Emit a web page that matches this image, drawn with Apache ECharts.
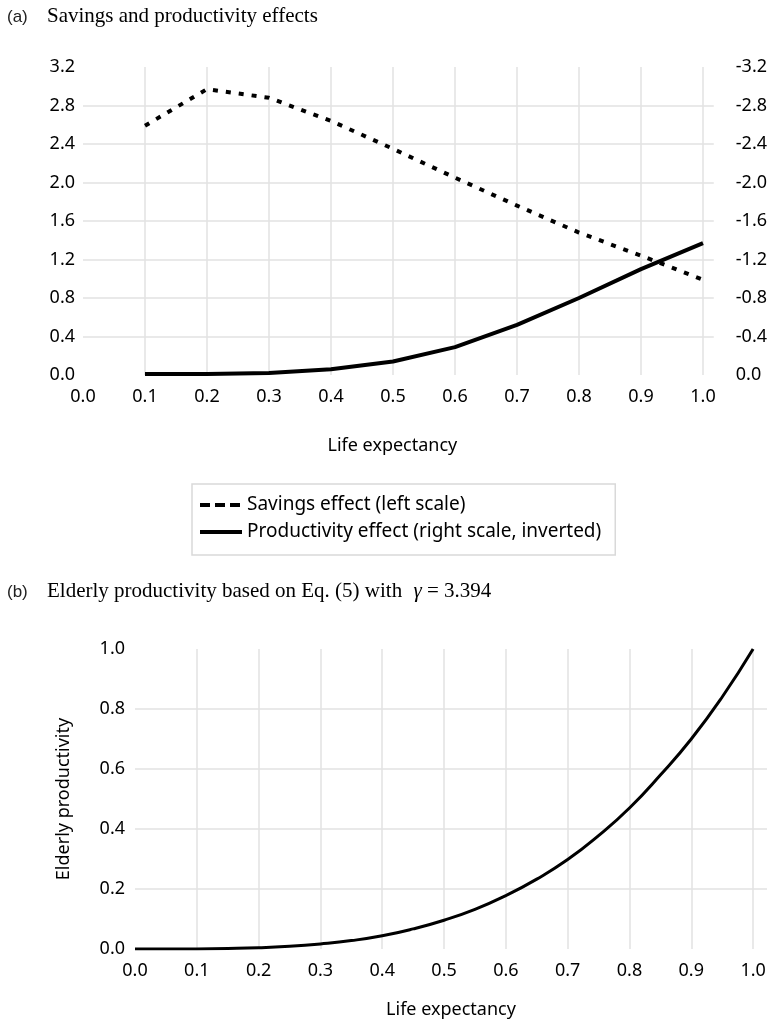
<!DOCTYPE html>
<html><head><meta charset="utf-8">
<script src="https://cdn.jsdelivr.net/npm/echarts@6/dist/echarts.min.js"></script>
<style>html,body{margin:0;padding:0;background:#fff}#c{width:770px;height:1031px}</style>
</head><body><div id="c"></div>
<script>
// ---- data ----
const lifeExpTop = [0.1, 0.2, 0.3, 0.4, 0.5, 0.6, 0.7, 0.8, 0.9, 1.0];
const savingsEffect = [2.59, 2.97, 2.88, 2.64, 2.35, 2.05, 1.76, 1.48, 1.24, 0.99];
const productivityEffect = [-0.01, -0.01, -0.02, -0.06, -0.14, -0.29, -0.52, -0.80, -1.10, -1.37];
const lifeExpBottom = [0, 0.05, 0.1, 0.15, 0.2, 0.25, 0.3, 0.35, 0.4, 0.45, 0.5, 0.55, 0.6, 0.65, 0.7, 0.75, 0.8, 0.85, 0.9, 0.95, 1.0];
const elderlyProductivity = [0, 0, 0.0004, 0.0016, 0.004, 0.009, 0.017, 0.028, 0.044, 0.067, 0.096, 0.132, 0.178, 0.233, 0.298, 0.378, 0.47, 0.58, 0.70, 0.84, 1.0];
const seriesNames = ['Savings effect (left scale)', 'Productivity effect (right scale, inverted)'];
const titleA = 'Savings and productivity effects';
const titleB = 'Elderly productivity based on Eq. (5) with ';
const xName = 'Life expectancy';
const yNameB = 'Elderly productivity';

const SANS = 'Noto Sans';
const fmt1 = v => (Math.abs(v) < 1e-9 ? '0.0' : v.toFixed(1));
const fmtX = v => (v > 1.0001 ? '' : fmt1(v));
const gridLine = { show: true, showMinLine: false, showMaxLine: false, lineStyle: { color: '#e2e2e2', width: 1.5 } };
const lab = (margin) => ({ fontFamily: SANS, fontSize: 18, color: '#000', margin: margin, lineHeight: 20 });
const noSym = { color: 'rgba(0,0,0,0)', borderWidth: 0, opacity: 0 };

const chart = echarts.init(document.getElementById('c'), null, { renderer: 'canvas' });
chart.setOption({
  animation: false,
  backgroundColor: '#fff',
  grid: [
    { left: 83, top: 67, width: 642, height: 308 },
    { left: 135, top: 649, width: 635, height: 300 }
  ],
  xAxis: [
    { gridIndex: 0, type: 'value', min: 0, max: 1.0174, interval: 0.1,
      axisLine: { show: false }, axisTick: { show: false },
      axisLabel: Object.assign(lab(12), { formatter: fmtX }),
      splitLine: gridLine,
      name: xName, nameLocation: 'middle', nameGap: 62,
      nameTextStyle: { fontFamily: SANS, fontSize: 18, color: '#000', padding: [0, 12, 0, 0] } },
    { gridIndex: 1, type: 'value', min: 0, max: 1.0225, interval: 0.1,
      axisLine: { show: false }, axisTick: { show: false },
      axisLabel: Object.assign(lab(12), { formatter: fmtX }),
      splitLine: gridLine,
      name: xName, nameLocation: 'middle', nameGap: 52,
      nameTextStyle: { fontFamily: SANS, fontSize: 18, color: '#000' } }
  ],
  yAxis: [
    { gridIndex: 0, type: 'value', min: 0, max: 3.2, interval: 0.4,
      axisLine: { show: false }, axisTick: { show: false },
      axisLabel: Object.assign(lab(8), { formatter: fmt1 }),
      splitLine: gridLine },
    { gridIndex: 0, type: 'value', position: 'right', min: -3.2, max: 0, interval: 0.4, inverse: true,
      axisLine: { show: false }, axisTick: { show: false },
      axisLabel: Object.assign(lab(22), { formatter: fmt1 }),
      splitLine: { show: false } },
    { gridIndex: 1, type: 'value', min: 0, max: 1, interval: 0.2,
      axisLine: { show: false }, axisTick: { show: false },
      axisLabel: Object.assign(lab(10), { formatter: fmt1 }),
      splitLine: gridLine,
      name: yNameB, nameLocation: 'middle', nameGap: 62, nameRotate: 90,
      nameTextStyle: { fontFamily: SANS, fontSize: 18, color: '#000' } }
  ],
  legend: {
    orient: 'vertical', left: 192, top: 484,
    borderColor: '#d9d9d9', borderWidth: 1.5, padding: [10, 14, 12, 6],
    itemWidth: 42, itemHeight: 14, itemGap: 5,
    textStyle: { fontFamily: SANS, fontSize: 19, color: '#000', lineHeight: 22 },
    data: [
      { name: seriesNames[0], itemStyle: noSym, lineStyle: { type: [10, 5], width: 4, color: '#000' } },
      { name: seriesNames[1], itemStyle: noSym, lineStyle: { type: 'solid', width: 4, color: '#000' } }
    ]
  },
  series: [
    { name: seriesNames[0], type: 'line', xAxisIndex: 0, yAxisIndex: 0, symbol: 'none',
      data: lifeExpTop.map((x, i) => [x, savingsEffect[i]]),
      lineStyle: { color: '#000', width: 4, type: [5, 8], cap: 'butt' }, itemStyle: { color: '#000' } },
    { name: seriesNames[1], type: 'line', xAxisIndex: 0, yAxisIndex: 1, symbol: 'none',
      data: lifeExpTop.map((x, i) => [x, productivityEffect[i]]),
      lineStyle: { color: '#000', width: 4 }, itemStyle: { color: '#000' } },
    { name: yNameB, type: 'line', xAxisIndex: 1, yAxisIndex: 2, symbol: 'none', smooth: true,
      data: lifeExpBottom.map((x, i) => [x, elderlyProductivity[i]]),
      lineStyle: { color: '#000', width: 3 }, itemStyle: { color: '#000' } }
  ],
  graphic: [
    { type: 'text', left: 7, top: 9, style: { text: '(a)', font: '17px "Liberation Sans"', fill: '#222' } },
    { type: 'text', left: 47, top: 6, style: { text: titleA, font: '21px "Liberation Serif"', fill: '#000' } },
    { type: 'text', left: 7, top: 584, style: { text: '(b)', font: '17px "Liberation Sans"', fill: '#222' } },
    { type: 'text', left: 47, top: 581, style: {
        text: '{n|' + titleB + '}{g|γ}{n| = 3.394}',
        rich: {
          n: { fontFamily: 'Liberation Serif', fontSize: 21, color: '#000' },
          g: { fontFamily: 'Liberation Serif', fontSize: 21, fontStyle: 'italic', color: '#000', padding: [0, 0, 0, 6] }
        } } }
  ]
});
</script></body></html>
